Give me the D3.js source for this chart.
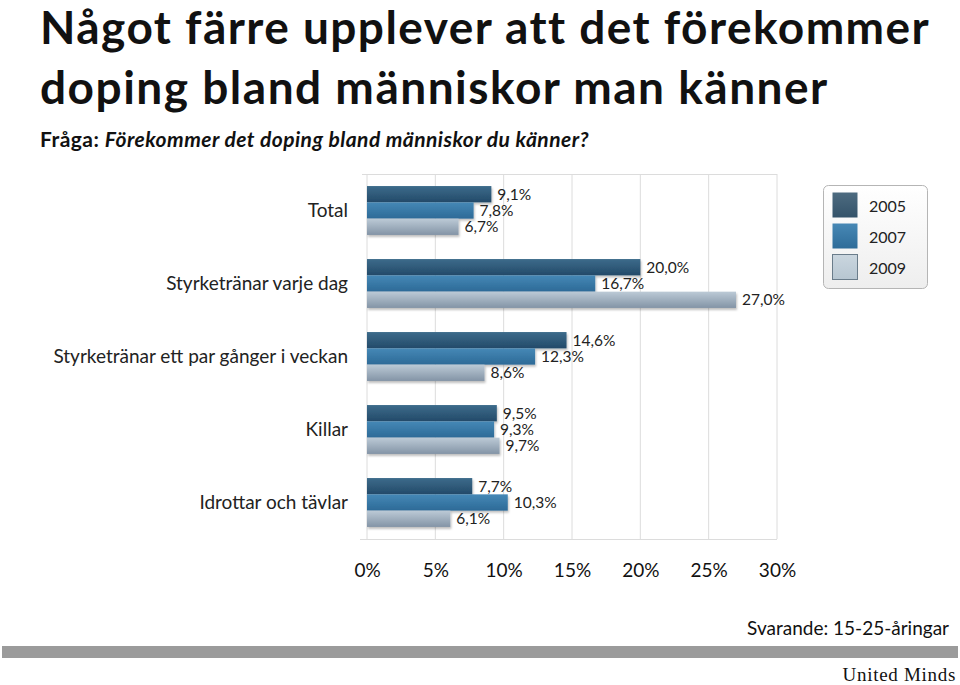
<!DOCTYPE html>
<html>
<head>
<meta charset="utf-8">
<script src="https://cdn.jsdelivr.net/npm/d3@7"></script>
<style>
  html, body { margin: 0; padding: 0; background: #fff; }
  svg { display: block; }
</style>
</head>
<body>
<svg id="chart" width="960" height="685"></svg>
<script>
const categories = ["Total", "Styrketränar varje dag", "Styrketränar ett par gånger i veckan", "Killar", "Idrottar och tävlar"];
const seriesNames = ["2005", "2007", "2009"];
const v2005 = [9.1, 20.0, 14.6, 9.5, 7.7];
const v2007 = [7.8, 16.7, 12.3, 9.3, 10.3];
const v2009 = [6.7, 27.0, 8.6, 9.7, 6.1];
const tickValues = [0, 5, 10, 15, 20, 25, 30];

const seriesValues = [v2005, v2007, v2009];
const svg = d3.select("#chart");
const font = "Lato, 'Open Sans', sans-serif";

// gradients
const defs = svg.append("defs");
const grads = [
  { id: "g2005", top: "#3d6b8b", bottom: "#234a69" },
  { id: "g2007", top: "#4588b6", bottom: "#2d6a97" },
  { id: "g2009", top: "#bccad6", bottom: "#8394a6" }
];
grads.forEach(g => {
  const lg = defs.append("linearGradient").attr("id", g.id).attr("x1", 0).attr("y1", 0).attr("x2", 0).attr("y2", 1);
  lg.append("stop").attr("offset", "0%").attr("stop-color", g.top);
  lg.append("stop").attr("offset", "100%").attr("stop-color", g.bottom);
});
const lgBox = defs.append("linearGradient").attr("id", "legbg").attr("x1", 0).attr("y1", 0).attr("x2", 0).attr("y2", 1);
lgBox.append("stop").attr("offset", "0%").attr("stop-color", "#ffffff");
lgBox.append("stop").attr("offset", "100%").attr("stop-color", "#eeeeee");
const legSw = [
  { id: "l2005", top: "#4d6b80", bottom: "#34536a" },
  { id: "l2007", top: "#4788b5", bottom: "#2e6c99" },
  { id: "l2009", top: "#cad6df", bottom: "#b7c6d1" }
];
legSw.forEach(g => {
  const lg = defs.append("linearGradient").attr("id", g.id).attr("x1", 0).attr("y1", 0).attr("x2", 0).attr("y2", 1);
  lg.append("stop").attr("offset", "0%").attr("stop-color", g.top);
  lg.append("stop").attr("offset", "100%").attr("stop-color", g.bottom);
});
const shadow = defs.append("filter").attr("id", "shadow").attr("x", "-5%").attr("y", "-20%").attr("width", "110%").attr("height", "160%");
shadow.append("feDropShadow").attr("dx", 1).attr("dy", 2).attr("stdDeviation", 1.2).attr("flood-color", "#000").attr("flood-opacity", 0.25);

// Title
svg.append("text").attr("x", 40).attr("y", 44)
  .attr("font-family", font).attr("font-weight", 700).attr("font-size", 46).attr("letter-spacing", 1.45).attr("fill", "#111")
  .text("Något färre upplever att det förekommer");
svg.append("text").attr("x", 40).attr("y", 104)
  .attr("font-family", font).attr("font-weight", 700).attr("font-size", 46).attr("letter-spacing", 1.5).attr("fill", "#111")
  .text("doping bland människor man känner");
const sub = svg.append("text").attr("x", 40).attr("y", 147)
  .attr("font-family", font).attr("font-weight", 700).attr("font-size", 21).attr("letter-spacing", 0.45).attr("fill", "#111");
sub.append("tspan").text("Fråga: ");
sub.append("tspan").attr("font-style", "italic").text("Förekommer det doping bland människor du känner?");

// Scales
const x = d3.scaleLinear().domain([0, 30]).range([367, 777]);
const y = d3.scaleBand().domain(categories).range([174, 539]).paddingInner(0.33).paddingOuter(0.165);
const ySub = d3.scaleBand().domain(seriesNames).range([0, y.bandwidth()]);

// grid
const grid = svg.append("g");
grid.selectAll("line.v").data(tickValues).join("line")
  .attr("x1", d => x(d)).attr("x2", d => x(d))
  .attr("y1", 174).attr("y2", 539)
  .attr("stroke", "#dcdcdc").attr("stroke-width", 1);
grid.append("line").attr("x1", 362).attr("x2", x(30)).attr("y1", 174.5).attr("y2", 174.5).attr("stroke", "#dcdcdc");
grid.append("line").attr("x1", 360).attr("x2", x(30)).attr("y1", 539.5).attr("y2", 539.5).attr("stroke", "#dcdcdc");

// x axis labels via d3 axis
const xAxis = d3.axisBottom(x).tickValues(tickValues).tickFormat(d => d + "%").tickSize(0).tickPadding(0);
const ax = svg.append("g").attr("transform", "translate(0,560)").call(xAxis);
ax.select(".domain").remove();
ax.selectAll("text").attr("font-family", font).attr("font-size", 19).attr("fill", "#111").attr("dy", "0.9em");

// y labels
const yAxis = d3.axisLeft(y).tickSize(0).tickPadding(0);
const ay = svg.append("g").attr("transform", "translate(348,0)").call(yAxis);
ay.select(".domain").remove();
ay.selectAll("text").attr("font-family", font).attr("font-size", 19).attr("fill", "#222");

// bars
const fmt = v => v.toFixed(1).replace(".", ",") + "%";
categories.forEach((c, ci) => {
  const g = svg.append("g").attr("transform", `translate(0,${y(c)})`);
  seriesNames.forEach((s, si) => {
    const v = seriesValues[si][ci];
    g.append("rect")
      .attr("x", x(0)).attr("y", ySub(s))
      .attr("width", x(v) - x(0)).attr("height", ySub.bandwidth())
      .attr("fill", `url(#${grads[si].id})`)
      .attr("filter", "url(#shadow)");
  });
  seriesNames.forEach((s, si) => {
    const v = seriesValues[si][ci];
    g.append("text")
      .attr("x", x(v) + 6).attr("y", ySub(s) + ySub.bandwidth() / 2)
      .attr("dy", "0.35em")
      .attr("font-family", font).attr("font-size", 15.5).attr("fill", "#222")
      .text(fmt(v));
  });
});

// legend
const leg = svg.append("g").attr("transform", "translate(823,185)");
leg.append("rect").attr("x", 0.5).attr("y", 0.5).attr("width", 104).attr("height", 103).attr("rx", 5)
  .attr("fill", "url(#legbg)").attr("stroke", "#b5b5b5");
seriesNames.forEach((s, i) => {
  leg.append("rect").attr("x", 9.5).attr("y", 7.5 + i * 31).attr("width", 25).attr("height", 25)
    .attr("fill", `url(#${legSw[i].id})`).attr("stroke", i === 2 ? "#6a7c8a" : "none");
  leg.append("text").attr("x", 46).attr("y", 21 + i * 31).attr("dy", "0.35em")
    .attr("font-family", font).attr("font-size", 16).attr("fill", "#222").text(s);
});

// footer
svg.append("text").attr("x", 949).attr("y", 635).attr("text-anchor", "end")
  .attr("font-family", font).attr("font-size", 19).attr("fill", "#111").text("Svarande: 15-25-åringar");
svg.append("rect").attr("x", 2).attr("y", 646).attr("width", 956).attr("height", 12).attr("fill", "#9b9b9b");
svg.append("text").attr("x", 956).attr("y", 681).attr("text-anchor", "end")
  .attr("font-family", "'Liberation Serif', 'DejaVu Serif', serif").attr("font-size", 19).attr("letter-spacing", 0.7).attr("fill", "#111").text("United Minds");
</script>
</body>
</html>
